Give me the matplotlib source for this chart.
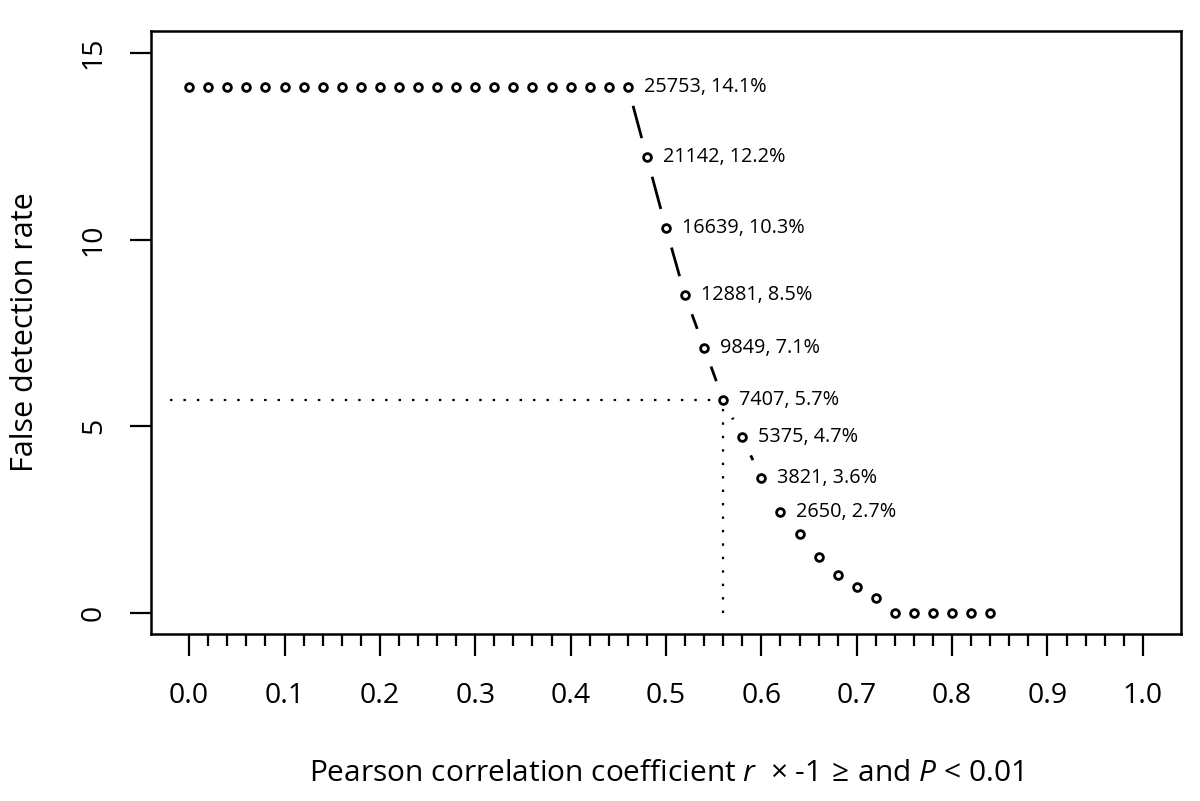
import numpy as np
import matplotlib
matplotlib.use("Agg")
import matplotlib.pyplot as plt

plt.rcParams['font.family'] = ['Open Sans', 'DejaVu Sans']
plt.rcParams['mathtext.fontset'] = 'custom'
plt.rcParams['mathtext.rm'] = 'Open Sans'
plt.rcParams['mathtext.it'] = 'Open Sans:italic'

# ---- data ----
r_threshold = [0.00, 0.02, 0.04, 0.06, 0.08, 0.10, 0.12, 0.14, 0.16, 0.18,
               0.20, 0.22, 0.24, 0.26, 0.28, 0.30, 0.32, 0.34, 0.36, 0.38,
               0.40, 0.42, 0.44, 0.46, 0.48, 0.50, 0.52, 0.54, 0.56, 0.58,
               0.60, 0.62, 0.64, 0.66, 0.68, 0.70, 0.72, 0.74, 0.76, 0.78,
               0.80, 0.82, 0.84]
fdr = [14.1] * 24 + [12.2, 10.3, 8.5, 7.1, 5.7, 4.7, 3.6, 2.7, 2.1, 1.5,
                     1.0, 0.7, 0.4, 0.0, 0.0, 0.0, 0.0, 0.0, 0.0]

label_x = [0.46, 0.48, 0.50, 0.52, 0.54, 0.56, 0.58, 0.60, 0.62]
label_y = [14.1, 12.2, 10.3, 8.5, 7.1, 5.7, 4.7, 3.6, 2.7]
label_count = [25753, 21142, 16639, 12881, 9849, 7407, 5375, 3821, 2650]

dash_x = [0.46, 0.48, 0.50, 0.52, 0.54, 0.56, 0.58, 0.60]
dash_y = [14.1, 12.2, 10.3, 8.5, 7.1, 5.7, 4.7, 3.6]

chosen_r = 0.56
chosen_fdr = 5.7
ref_line_start = -0.02

xticks = [0.0, 0.1, 0.2, 0.3, 0.4, 0.5, 0.6, 0.7, 0.8, 0.9, 1.0]
xminor = [round(0.02 * i, 2) for i in range(51)]
yticks = [0, 5, 10, 15]

# ---- figure ----
fig = plt.figure(figsize=(12, 8.01), dpi=100)
ax = fig.add_axes([151 / 1200, 1 - 633.7 / 801, 1030 / 1200, (633.7 - 31.3) / 801])
ax.set_xlim(-0.04, 1.04)
ax.set_ylim(-0.565, 15.58)

# reference dotted lines
ax.plot([ref_line_start, chosen_r], [chosen_fdr, chosen_fdr], color='black',
        lw=1.6, dashes=(1.1, 4.95), dash_capstyle='butt', zorder=2)
ax.plot([chosen_r, chosen_r], [0, chosen_fdr], color='black',
        lw=1.6, dashes=(1.1, 4.95), dash_capstyle='butt', zorder=2)

# points
ax.plot(r_threshold, fdr, linestyle='none', marker='o', markersize=5.6,
        markerfacecolor='white', markeredgecolor='black', markeredgewidth=2.0,
        zorder=4)

# dashed connecting line (R type="b" style: gaps around points)
fig.canvas.draw()
gap_px = 20.0
dash_px = 34.0
inv = ax.transData.inverted()
for i in range(len(dash_x) - 1):
    p0 = ax.transData.transform((dash_x[i], dash_y[i]))
    p1 = ax.transData.transform((dash_x[i + 1], dash_y[i + 1]))
    d = p1 - p0
    L = np.hypot(*d)
    if L <= 2 * gap_px:
        continue
    u = d / L
    vis = min(dash_px, L - 2 * gap_px)
    a = p0 + u * gap_px
    b = a + u * vis
    a_d = inv.transform(a)
    b_d = inv.transform(b)
    ax.plot([a_d[0], b_d[0]], [a_d[1], b_d[1]], color='black', lw=2.0,
            solid_capstyle='butt', zorder=3)

# labels
for x, y, c in zip(label_x, label_y, label_count):
    ax.annotate(f"{c}, {y:.1f}%", (x, y), xytext=(11.5, 0),
                textcoords='offset points', ha='left', va='center',
                fontsize=14.3, zorder=5)

# axes styling
for s in ax.spines.values():
    s.set_linewidth(1.8)
ax.set_xticks(xticks)
ax.set_xticklabels([f"{t:.1f}" for t in xticks])
ax.set_xticks([t for t in xminor if round(t * 10, 6) != round(t * 10)], minor=True)
ax.set_yticks(yticks)
ax.set_yticklabels([str(t) for t in yticks], rotation=90, va='center')
ax.tick_params(axis='x', which='major', length=16, width=1.6, labelsize=20.5, pad=19)
ax.tick_params(axis='x', which='minor', length=8.5, width=1.6)
ax.tick_params(axis='y', which='major', length=15, width=1.6, labelsize=20.5, pad=16)

ax.set_ylabel("False detection rate", fontsize=22)
ax.yaxis.set_label_coords(-0.1078, 0.5)
ax.set_xlabel(r"Pearson correlation coefficient $r$  $\times$ -1$\,\geq\,$and $P$ < 0.01",
              fontsize=21.5)
ax.xaxis.set_label_coords(0.5, -0.208)

fig.savefig("out.png", dpi=100)
